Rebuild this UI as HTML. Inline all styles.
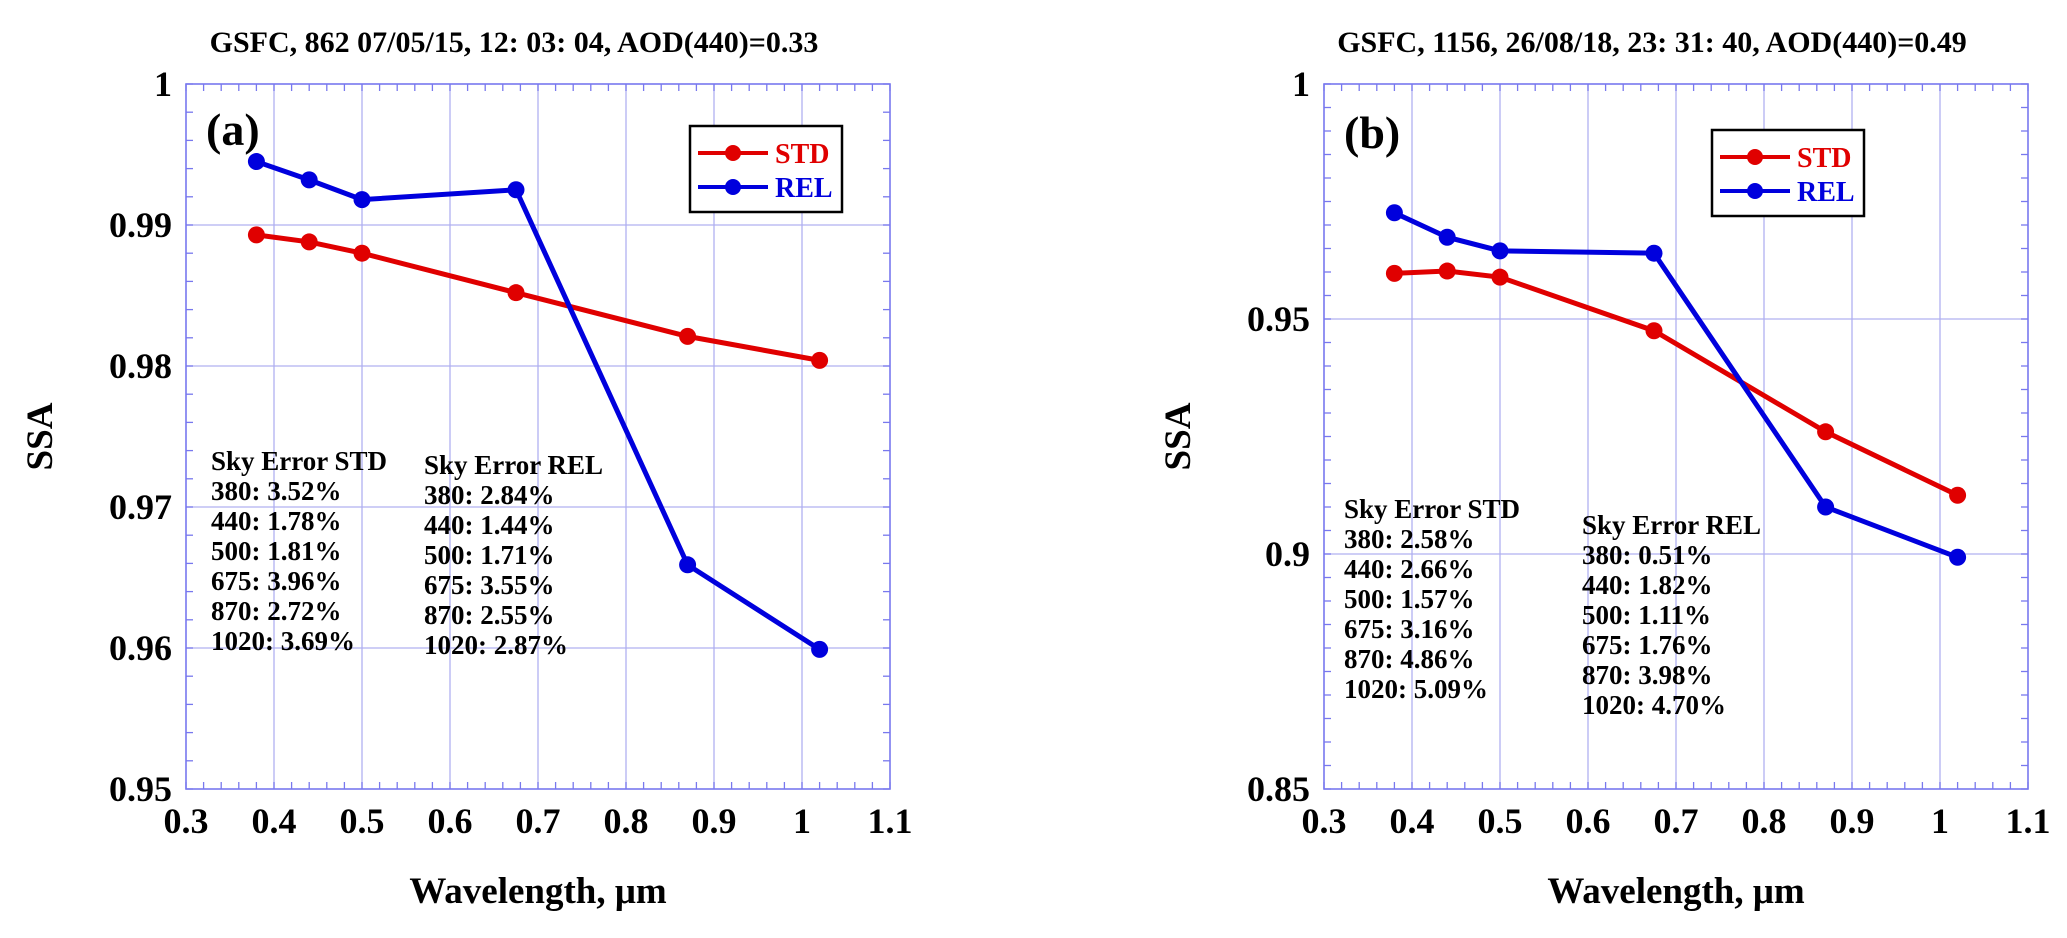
<!DOCTYPE html>
<html><head><meta charset="utf-8"><style>
html,body{margin:0;padding:0;background:#fff;}
svg{display:block;font-family:"Liberation Serif",serif;font-weight:bold;}
</style></head><body>
<svg id="s" width="2067" height="938" viewBox="0 0 2067 938" xmlns="http://www.w3.org/2000/svg"></svg>
<script>
const wavelengths = [0.38, 0.44, 0.50, 0.675, 0.87, 1.02];
const stdA = [0.9893, 0.9888, 0.9880, 0.9852, 0.9821, 0.9804];
const relA = [0.9945, 0.9932, 0.9918, 0.9925, 0.9659, 0.9599];
const stdB = [0.9597, 0.9602, 0.9589, 0.9475, 0.9260, 0.9125];
const relB = [0.9726, 0.9674, 0.9645, 0.9640, 0.9100, 0.8993];
const xTicks = [0.3, 0.4, 0.5, 0.6, 0.7, 0.8, 0.9, 1.0, 1.1];
const xTickLabels = ["0.3","0.4","0.5","0.6","0.7","0.8","0.9","1","1.1"];
const yTicksA = [0.95, 0.96, 0.97, 0.98, 0.99, 1.0];
const yTickLabelsA = ["0.95","0.96","0.97","0.98","0.99","1"];
const yTicksB = [0.85, 0.9, 0.95, 1.0];
const yTickLabelsB = ["0.85","0.9","0.95","1"];
const skyStdA = ["380: 3.52%","440: 1.78%","500: 1.81%","675: 3.96%","870: 2.72%","1020: 3.69%"];
const skyRelA = ["380: 2.84%","440: 1.44%","500: 1.71%","675: 3.55%","870: 2.55%","1020: 2.87%"];
const skyStdB = ["380: 2.58%","440: 2.66%","500: 1.57%","675: 3.16%","870: 4.86%","1020: 5.09%"];
const skyRelB = ["380: 0.51%","440: 1.82%","500: 1.11%","675: 1.76%","870: 3.98%","1020: 4.70%"];

const svg = document.getElementById('s');
const NS = 'http://www.w3.org/2000/svg';
function mk(tag, attrs, parent, text){
  const e = document.createElementNS(NS, tag);
  for (const k in attrs) e.setAttribute(k, attrs[k]);
  if (text !== undefined) e.textContent = text;
  (parent || svg).appendChild(e);
  return e;
}

function panel(p){
  const g = mk('g', {});
  
  
  const L = p.left, R = p.left + 704, T = 84, B = 789;
  const sx = v => L + (v - 0.3) / 0.8 * (R - L);
  const sy = v => B - (v - p.ymin) / (1 - p.ymin) * (B - T);
  const grid = '#b0b0f0', axc = '#7878ee';
  xTicks.forEach((v, i) => {
    if (i > 0 && i < xTicks.length - 1) {
      const l = mk('line', {x1: sx(v), x2: sx(v), y1: T, y2: B, stroke: grid, 'stroke-width': 1.3}, g);
      
      
    }
  });
  p.yTicks.forEach((v, i) => {
    if (i > 0 && i < p.yTicks.length - 1) {
      const l = mk('line', {x1: L, x2: R, y1: sy(v), y2: sy(v), stroke: grid, 'stroke-width': 1.3}, g);
      
      
    }
  });
  for (let v = 0.3; v <= 1.1001; v += 0.02) {
    mk('line', {x1: sx(v), x2: sx(v), y1: B, y2: B - 7, stroke: axc, 'stroke-width': 1.3}, g);
    mk('line', {x1: sx(v), x2: sx(v), y1: T, y2: T + 7, stroke: axc, 'stroke-width': 1.3}, g);
  }
  for (let v = p.ymin; v <= 1.0001; v += p.minor) {
    mk('line', {x1: L, x2: L + 7, y1: sy(v), y2: sy(v), stroke: axc, 'stroke-width': 1.3}, g);
    mk('line', {x1: R, x2: R - 7, y1: sy(v), y2: sy(v), stroke: axc, 'stroke-width': 1.3}, g);
  }
  const frame = mk('rect', {x: L, y: T, width: R - L, height: B - T, fill: 'none', stroke: axc, 'stroke-width': 1.6}, g);
  
  
  xTicks.forEach((v, i) => {
    const t = mk('text', {x: sx(v), y: B + 44, 'text-anchor': 'middle', 'font-size': 36}, g, xTickLabels[i]);
    
    
  });
  p.yTicks.forEach((v, i) => {
    const t = mk('text', {x: L - 14, y: sy(v) + 12, 'text-anchor': 'end', 'font-size': 36}, g, p.yTickLabels[i]);
    
    
  });
  const tt = mk('text', {x: L + 328, y: 52, 'text-anchor': 'middle', 'font-size': 30}, g, p.title);
  
  
  const xl = mk('text', {x: L + 352, y: 903, 'text-anchor': 'middle', 'font-size': 37}, g, 'Wavelength, μm');
  
  
  const yl = mk('text', {x: 0, y: 0, 'text-anchor': 'middle', 'font-size': 37, transform: `translate(${L - 134},${(T + B) / 2}) rotate(-90)`}, g, 'SSA');
  
  
  const pl = mk('text', {x: L + 20, y: p.labY, 'font-size': 46}, g, p.label);
  
  
  function block(x, y, head, lines, name){
    const tg = mk('g', {}, g);
    
    
    mk('text', {x: x, y: y, 'font-size': 27}, tg, head);
    lines.forEach((s, i) => mk('text', {x: x, y: y + 30 * (i + 1), 'font-size': 27}, tg, s));
  }
  block(p.stdX, p.stdY, 'Sky Error STD', p.skyStd, 'sky-error-std-note');
  block(p.relX, p.relY, 'Sky Error REL', p.skyRel, 'sky-error-rel-note');
  function series(vals, color, name){
    const sg = mk('g', {}, g);
    
    
    const pts = vals.map((v, i) => sx(wavelengths[i]) + ',' + sy(v)).join(' ');
    mk('polyline', {points: pts, fill: 'none', stroke: color, 'stroke-width': 5}, sg);
    vals.forEach((v, i) => {
      const c = mk('circle', {cx: sx(wavelengths[i]), cy: sy(v), r: 8.5, fill: color}, sg);
      
      
    });
  }
  series(p.std, '#e00000', 'std-series');
  series(p.rel, '#0000dd', 'rel-series');
  const lg = mk('g', {}, g);
  
  
  const lx = p.legX, ly = p.legY;
  mk('rect', {x: lx, y: ly, width: 152, height: 86, fill: '#fff', stroke: '#000', 'stroke-width': 2.5}, lg);
  [['STD', '#e00000', 27], ['REL', '#0000dd', 61]].forEach(([n, c, dy]) => {
    const e = mk('g', {}, lg);
    
    
    mk('line', {x1: lx + 8, x2: lx + 78, y1: ly + dy, y2: ly + dy, stroke: c, 'stroke-width': 4}, e);
    mk('circle', {cx: lx + 43, cy: ly + dy, r: 8, fill: c}, e);
    mk('text', {x: lx + 85, y: ly + dy + 10, 'font-size': 28, fill: c}, e, n);
  });
}

panel({name: 'panel-a', left: 186, ymin: 0.95, minor: 0.002, yTicks: yTicksA, yTickLabels: yTickLabelsA,
  title: 'GSFC, 862 07/05/15, 12: 03: 04, AOD(440)=0.33', label: '(a)', labY: 145,
  std: stdA, rel: relA, skyStd: skyStdA, skyRel: skyRelA,
  stdX: 211, stdY: 470, relX: 424, relY: 474, legX: 690, legY: 126});
panel({name: 'panel-b', left: 1324, ymin: 0.85, minor: 0.005, yTicks: yTicksB, yTickLabels: yTickLabelsB,
  title: 'GSFC, 1156, 26/08/18, 23: 31: 40, AOD(440)=0.49', label: '(b)', labY: 148,
  std: stdB, rel: relB, skyStd: skyStdB, skyRel: skyRelB,
  stdX: 1344, stdY: 518, relX: 1582, relY: 534, legX: 1712, legY: 130});
</script>
</body></html>
